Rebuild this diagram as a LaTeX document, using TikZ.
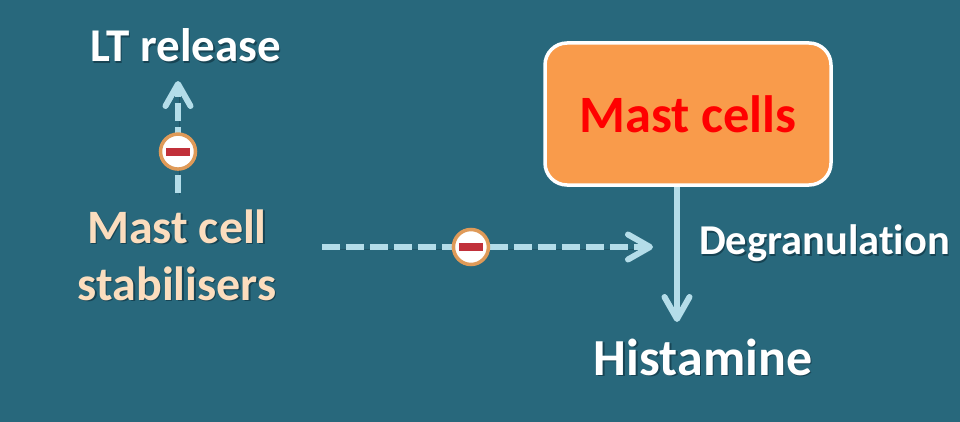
\documentclass[tikz,border=0pt]{standalone}
\usepackage{fontspec}
\setmainfont[Ligatures=NoCommon]{Carlito}
\usetikzlibrary{arrows.meta}
\definecolor{slate}{HTML}{28687C}
\definecolor{slatedark}{HTML}{174454}
\definecolor{paleblue}{HTML}{B4DDE9}
\definecolor{peach}{HTML}{FBDDBE}
\definecolor{boxorange}{HTML}{F99B4B}
\definecolor{ringorange}{HTML}{DF9A58}
\definecolor{barred}{HTML}{C1303A}
\def\softtext#1{\leavevmode\rlap{\kern1.5pt\raisebox{-1.5pt}{\color{slatedark}#1}}#1}
\tikzset{
	lbl/.style={font=\bfseries\fontsize{47}{57}\selectfont, text=white, inner sep=0pt},
	link/.style={line width=6pt, draw=paleblue, -{Straight Barb[length=22pt,width=25pt,round]},
		preaction={draw=slatedark, opacity=0.5, transform canvas={shift={(1.5pt,-2pt)}}}},
	dashlink/.style={link, dash pattern=on 18pt off 6pt},
	minusbadge/.style={circle, solid, draw=ringorange, line width=3.5pt, fill=white, minimum size=35pt, inner sep=0pt,
		preaction={}, path picture={\fill[barred] (-12pt,-4pt) rectangle (12pt,4pt);}}
}
\begin{document}
\begin{tikzpicture}[x=1pt,y=-1pt]
	%%%%% START %%%%%
	\fill[slate] (0,0) rectangle (960,422);
	\useasboundingbox (0,0) rectangle (960,422);
	
	\node[lbl] (ltrelease) at (185.5,46) {\softtext{LT release}};
	\node[lbl, text=peach, font=\bfseries\fontsize{48}{57}\selectfont, align=center] (stabilisers) at (177,256) {\softtext{Mast cell}\\\softtext{stabilisers}};
	\node[rounded corners=22pt, draw=white, line width=3.5pt, fill=boxorange, minimum width=286pt, minimum height=142pt, inner sep=0pt,
		font=\bfseries\fontsize{52.5}{60}\selectfont, text=red] (mastcells) at (688,114) {Mast cells};
	\node[lbl, font=\bfseries\fontsize{52}{60}\selectfont] (histamine) at (703,358) {\softtext{Histamine}};
	\node[lbl, font=\bfseries\fontsize{42.5}{50}\selectfont] (degranulation) at (824.5,244) {\softtext{Degranulation}};
	
	\coordinate (ltfoot) at (178,193);
	\coordinate (lttip) at (178,81);
	\coordinate (stabout) at (322,247);
	\coordinate (blocktip) at (653,247);
	\coordinate (histtip) at (677,322);
	
	\draw[dashlink] (ltfoot) -- node[minusbadge, pos=0.37] (minuslt) {} (lttip);
	\draw[dashlink] (stabout) -- node[minusbadge, pos=0.45] (minusdeg) {} (blocktip);
	\draw[link] (mastcells.south -| histtip) -- (histtip);
	%%%%% END %%%%%
\end{tikzpicture}
\end{document}
